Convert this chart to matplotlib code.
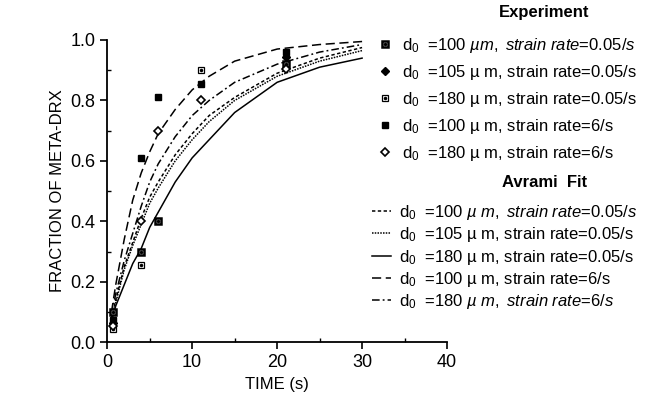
import numpy as N
import matplotlib
matplotlib.use('Agg')
import matplotlib.pyplot as plt
from matplotlib.ticker import MultipleLocator

plt.rcParams['font.family'] = ['Liberation Sans', 'DejaVu Sans']
plt.rcParams['mathtext.fontset'] = 'custom'
plt.rcParams['mathtext.rm'] = 'Liberation Sans'
plt.rcParams['mathtext.it'] = 'Liberation Sans:italic'

# experiment points (time s, fraction)
t_100_slow = [0.7, 4, 6, 21]
f_100_slow = [0.10, 0.30, 0.40, 0.92]
t_105_slow = [0.7, 21]
f_105_slow = [0.065, 0.945]
t_180_slow = [0.7, 4, 11]
f_180_slow = [0.045, 0.255, 0.90]
t_100_fast = [0.7, 4, 6, 11, 21]
f_100_fast = [0.075, 0.61, 0.81, 0.855, 0.96]
t_180_fast = [0.7, 4, 6, 11, 21]
f_180_fast = [0.055, 0.40, 0.70, 0.80, 0.905]

# Avrami fit curves
t_fit = [0.5, 1, 2, 3, 4, 5, 6, 8, 10, 12, 15, 20, 25, 30]
fit_100_slow = [0.08, 0.14, 0.25, 0.33, 0.41, 0.48, 0.53, 0.62, 0.69, 0.75, 0.81, 0.89, 0.94, 0.975]
fit_105_slow = [0.075, 0.13, 0.24, 0.32, 0.39, 0.46, 0.51, 0.60, 0.67, 0.73, 0.80, 0.88, 0.93, 0.965]
fit_180_slow = [0.07, 0.12, 0.19, 0.26, 0.31, 0.38, 0.43, 0.53, 0.61, 0.67, 0.76, 0.86, 0.91, 0.94]
fit_100_fast = [0.10, 0.19, 0.34, 0.47, 0.56, 0.63, 0.69, 0.77, 0.835, 0.88, 0.93, 0.97, 0.985, 0.995]
fit_180_fast = [0.09, 0.16, 0.27, 0.36, 0.45, 0.53, 0.59, 0.68, 0.75, 0.80, 0.86, 0.92, 0.96, 0.985]

labels_exp = [r'd$_0$  =$\mathit{100\ µm,\ strain\ rate}$=$\mathit{0.05/s}$',
              'd$_0$  =105 µ m, strain rate=0.05/s',
              'd$_0$  =180 µ m, strain rate=0.05/s',
              'd$_0$  =100 µ m, strain rate=6/s',
              'd$_0$  =180 µ m, strain rate=6/s']
labels_fit = [r'd$_0$  =$\mathit{100\ µ\ m,\ strain\ rate}$=$\mathit{0.05/s}$',
              'd$_0$  =105 µ m, strain rate=0.05/s',
              'd$_0$  =180 µ m, strain rate=0.05/s',
              'd$_0$  =100 µ m, strain rate=6/s',
              r'd$_0$  =$\mathit{180\ µ\ m,\ strain\ rate}$=$\mathit{6/s}$']

fig = plt.figure(figsize=(6.46, 4.04), dpi=100)
ax = fig.add_axes([0.166, 0.153, 0.526, 0.748])

lw = 1.1
l1, = ax.plot(t_fit, fit_100_slow, color='k', lw=lw, ls=(0, (2.2, 1.6)))
l2, = ax.plot(t_fit, fit_105_slow, color='k', lw=lw, ls=(0, (1, 0.8)))
l3, = ax.plot(t_fit, fit_180_slow, color='k', lw=lw, ls='-')
l4, = ax.plot(t_fit, fit_100_fast, color='k', lw=lw, ls=(0, (6, 3)))
l5, = ax.plot(t_fit, fit_180_fast, color='k', lw=lw, ls=(0, (5, 2, 1.2, 2)))

# markers
ms = 5
m1a, = ax.plot(t_100_slow, f_100_slow, ls='none', marker='s', ms=ms, mfc='white', mec='k', mew=1.8)
m1b, = ax.plot(t_100_slow, f_100_slow, ls='none', marker='o', ms=1.5, color='k')
m2, = ax.plot(t_105_slow, f_105_slow, ls='none', marker='D', ms=3.8, color='k')
m3a, = ax.plot(t_180_slow, f_180_slow, ls='none', marker='s', ms=ms, mfc='white', mec='k', mew=0.9)
m3b, = ax.plot(t_180_slow, f_180_slow, ls='none', marker='o', ms=1.5, color='k')
m4, = ax.plot(t_100_fast, f_100_fast, ls='none', marker='s', ms=ms, color='k')
m5, = ax.plot(t_180_fast, f_180_fast, ls='none', marker='D', ms=4.2, mfc='white', mec='k', mew=1.2)

ax.set_xlim(0, 40)
ax.set_ylim(0, 1.0)
ax.xaxis.set_major_locator(MultipleLocator(10))
ax.xaxis.set_minor_locator(MultipleLocator(5))
ax.yaxis.set_major_locator(MultipleLocator(0.2))
ax.yaxis.set_minor_locator(MultipleLocator(0.1))
ax.yaxis.set_major_formatter(matplotlib.ticker.FormatStrFormatter('%.1f'))
ax.tick_params(which='major', direction='out', length=5, width=1.2, labelsize=13)
ax.tick_params(which='minor', direction='in', length=3, width=1)
ax.spines['top'].set_visible(False)
ax.spines['right'].set_visible(False)
ax.spines['left'].set_linewidth(1.3)
ax.spines['bottom'].set_linewidth(1.3)
ax.set_xlabel('TIME (s)', fontsize=12)
ax.set_ylabel('FRACTION OF META-DRX', fontsize=12)

# legends, titles drawn separately so they sit right of centre like the original
leg1 = fig.legend([(m1a, m1b), m2, (m3a, m3b), m4, m5], labels_exp,
                  loc='upper left', bbox_to_anchor=(0.56, 0.948),
                  frameon=False, fontsize=12, handlelength=1.0, handletextpad=0.5,
                  labelspacing=0.48)
leg2 = fig.legend([l1, l2, l3, l4, l5], labels_fit,
                  loc='upper left', bbox_to_anchor=(0.553, 0.535),
                  frameon=False, fontsize=12, handlelength=1.1, handletextpad=0.5,
                  labelspacing=0.2)
fig.text(0.843, 1 - 13 / 404, 'Experiment', ha='center', va='center',
         fontsize=12, fontweight='bold')
fig.text(0.843, 1 - 183 / 404, 'Avrami  Fit', ha='center', va='center',
         fontsize=12, fontweight='bold')

fig.savefig('out.png', dpi=100)
